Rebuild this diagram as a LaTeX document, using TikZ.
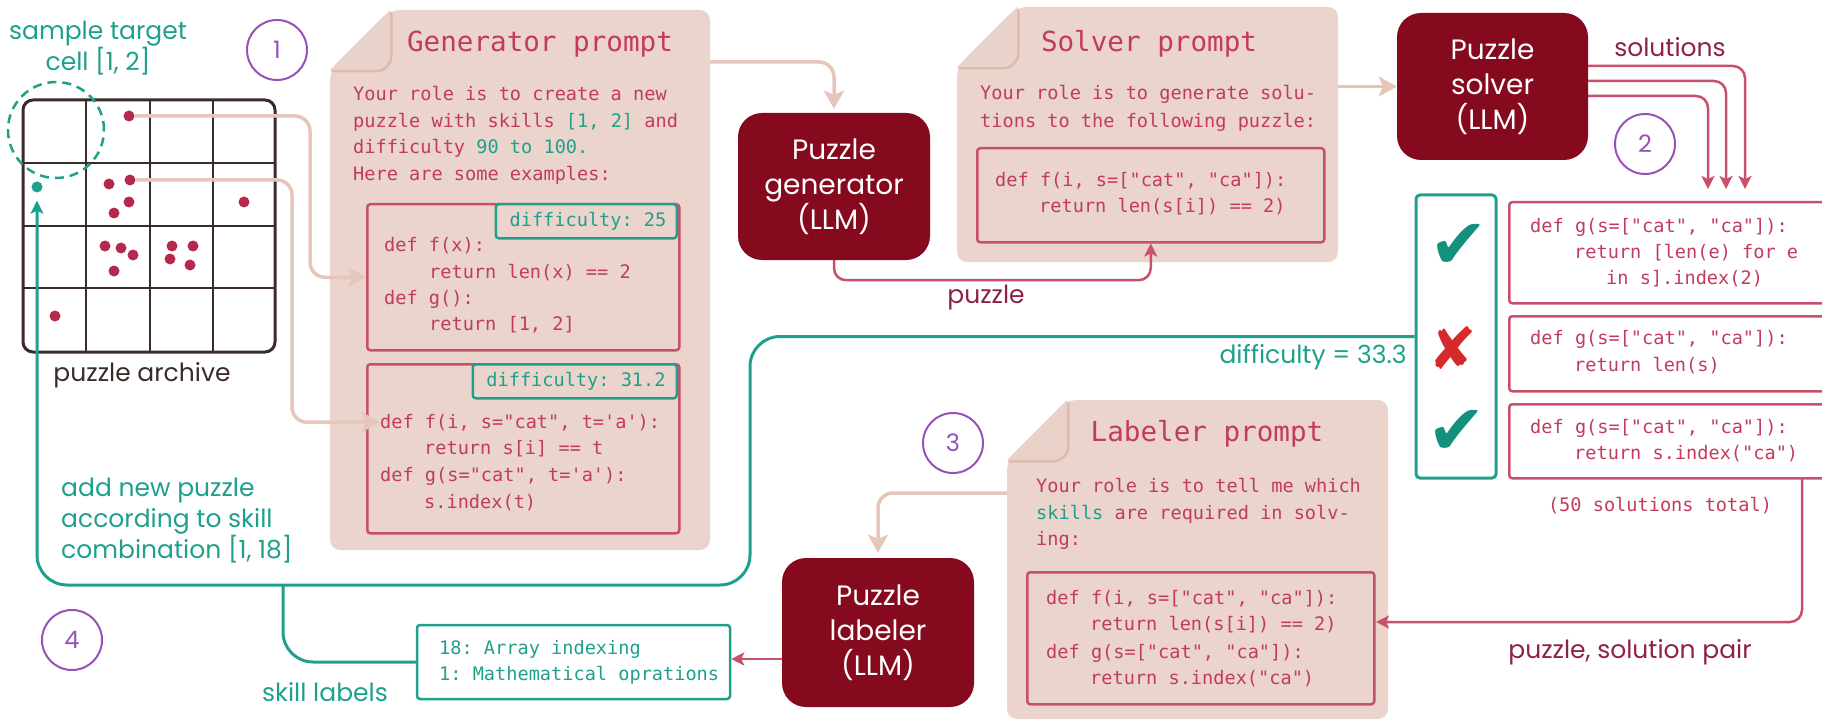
\documentclass[tikz,border=0pt]{standalone}
\usepackage{fontspec}
\setmainfont{Poppins}
\setmonofont{DejaVu Sans Mono}
\newfontfamily\symfont{DejaVu Sans}
\usetikzlibrary{arrows.meta}
\definecolor{llmred}{HTML}{850A1E}
\definecolor{promptfill}{HTML}{EBD4CC}
\definecolor{foldlight}{HTML}{EAD2CA}
\definecolor{foldshadow}{HTML}{D6B0A3}
\definecolor{prompttext}{HTML}{C23B5C}
\definecolor{codeborder}{HTML}{C9506B}
\definecolor{tealc}{HTML}{1FA08D}
\definecolor{checkteal}{HTML}{14907E}
\definecolor{purplec}{HTML}{9652B6}
\definecolor{labelred}{HTML}{8E2245}
\definecolor{peach}{HTML}{E6C6BA}
\definecolor{gridc}{HTML}{3B2B2B}
\definecolor{dotred}{HTML}{B5294E}
\definecolor{xred}{HTML}{D42A2A}
\newcommand\promptpaper[5]{%
  \fill[promptfill, rounded corners=10pt] (#2,#3+60) -- (#2+60,#3) -- (#4,#3) -- (#4,#5) -- (#2,#5) -- cycle;
  \draw[foldshadow, line width=3pt, opacity=0.7, line cap=round] (#2+2,#3+61) -- (#2+46,#3+61) to[out=0,in=-90] (#2+61,#3+46) -- (#2+61,#3+3);
  \fill[foldlight] (#2,#3+60) -- (#2+60,#3) -- (#2+60,#3+46) to[out=-90,in=0] (#2+46,#3+60) -- cycle;
  \node[inner sep=0pt, minimum width=#4-#2, minimum height=#5-#3, anchor=north west] (#1) at (#2,#3) {};}
\begin{document}
\begin{tikzpicture}[x=1pt,y=-1pt,
  code/.style={font=\fontsize{18.6}{26}\selectfont\ttfamily, text=prompttext, anchor=base west, inner sep=0pt},
  ptitle/.style={font=\fontsize{27.6}{30}\selectfont\ttfamily, text=prompttext, anchor=base, inner sep=0pt},
  llm/.style={fill=llmred, rounded corners=24pt, text=white, align=center, font=\fontsize{28}{35}\selectfont, inner sep=0pt},
  codebox/.style={draw=codeborder, line width=2.5pt, rounded corners=3pt, inner sep=0pt},
  tagbox/.style={draw=tealc, line width=2.5pt, rounded corners=3pt, inner sep=0pt},
  numcircle/.style={circle, draw=purplec, line width=2pt, minimum size=60pt, inner sep=0pt, text=purplec, font=\fontsize{24}{24}\selectfont},
  lab/.style={font=\fontsize{25}{31}\selectfont, inner sep=0pt},
  peacharrow/.style={draw=peach, line width=3.5pt, rounded corners=15pt, -{Stealth[length=18pt,width=20pt,inset=4pt]}},
  redarrow/.style={draw=codeborder, line width=2.5pt, rounded corners=12pt, -{Stealth[length=13pt,width=13pt,inset=3pt]}},
  tealline/.style={draw=tealc, line width=3pt, rounded corners=30pt},
  dot/.style={circle, fill=dotred, minimum size=11pt, inner sep=0pt},
]
\useasboundingbox (0,0) rectangle (1822,722);
\clip (0,0) rectangle (1822,722);

% ---------- puzzle archive ----------
\node[lab, text=tealc, align=center] (sample) at (98,48) {sample target\\cell [1, 2]};
\node[numcircle] (n1) at (277,50) {1};
\node[draw=gridc, line width=3pt, rounded corners=10pt, minimum width=252pt, minimum height=252pt, inner sep=0pt] (archive) at (149,226) {};
\foreach \xx in {86,150,213} \draw[gridc, line width=2.5pt] (\xx,100) -- (\xx,352);
\foreach \yy in {163,226,288} \draw[gridc, line width=2.5pt] (23,\yy) -- (275,\yy);
\draw[tealc, line width=2.5pt, dash pattern=on 9pt off 6pt] (56,130) circle (48pt);
\node[circle, fill=tealc, minimum size=11pt, inner sep=0pt] (tealdot) at (37,187) {};
\node[dot] (d1) at (129,116) {};
\node[dot] (d2) at (130,180) {};
\foreach \px/\py [count=\i] in {109/184,129/202,114/213,244/202,105/246,121/248,133/255,114/271,172/246,193/246,170/259,190/265,55/316}
  \node[dot] (dd\i) at (\px,\py) {};
\node[lab, text=gridc] (archlabel) at (142,375) {puzzle archive};

% ---------- generator prompt ----------
\promptpaper{genprompt}{330}{10}{710}{550}
\node[ptitle] (gtitle) at (540,52) {Generator prompt};
\node[code] (gb1) at (353,101) {Your role is to create a new};
\node[code] (gb2) at (353,128) {puzzle with skills \textcolor{tealc}{[1, 2]} and};
\node[code] (gb3) at (353,154) {difficulty \textcolor{tealc}{90 to 100.}};
\node[code] (gb4) at (353,181) {Here are some examples:};
\node[codebox, minimum width=312pt, minimum height=146pt, anchor=north west] (gcode1) at (366,203) {};
\node[tagbox, fill=promptfill, minimum width=181pt, minimum height=34pt, anchor=north east] (tag1) at (678,203) {};
\node[code, anchor=base, text=tealc] (tag1t) at (588,226) {difficulty: 25};
\node[code] (c11) at (384,251) {def f(x):};
\node[code] (c12) at (429,278) {return len(x) == 2};
\node[code] (c13) at (384,304) {def g():};
\node[code] (c14) at (429,330) {return [1, 2]};
\node[codebox, minimum width=312pt, minimum height=169pt, anchor=north west] (gcode2) at (366,363) {};
\node[tagbox, fill=promptfill, minimum width=204pt, minimum height=34pt, anchor=north east] (tag2) at (678,363) {};
\node[code, anchor=base, text=tealc] (tag2t) at (576,386) {difficulty: 31.2};
\node[code] (c21) at (380,428) {def f(i, s="cat", t='a'):};
\node[code] (c22) at (424,454) {return s[i] == t};
\node[code] (c23) at (380,481) {def g(s="cat", t='a'):};
\node[code] (c24) at (424,508) {s.index(t)};

\draw[peacharrow] (d1.east) -- (310,116) |- (gcode1.west);
\draw[peacharrow] (d2.east) -- (292,180) |- (c21.west);

% ---------- generator LLM ----------
\node[llm, minimum width=192pt, minimum height=147pt] (genllm) at (834,186.5) {Puzzle\\generator\\(LLM)};
\coordinate (gout) at (710,62);
\draw[peacharrow, shorten >=4pt] (gout) -| (genllm.north);

% ---------- solver prompt ----------
\promptpaper{solverprompt}{957}{7}{1338}{262}
\node[ptitle] (stitle) at (1149,52) {Solver prompt};
\node[code] (sb1) at (980,100) {Your role is to generate solu-};
\node[code] (sb2) at (980,128) {tions to the following puzzle:};
\node[codebox, minimum width=347pt, minimum height=94pt, anchor=north west] (scode) at (976,147) {};
\node[code] (s11) at (995,186) {def f(i, s=["cat", "ca"]):};
\node[code] (s12) at (1039,212) {return len(s[i]) == 2)};
\draw[redarrow] (genllm.south) -- ++(0,20) -| (scode.south);
\node[lab, text=labelred] (puzzlelab) at (986,297) {puzzle};

% ---------- solver LLM ----------
\node[llm, minimum width=191pt, minimum height=147pt] (solverllm) at (1492.5,86.5) {Puzzle\\solver\\(LLM)};
\draw[peacharrow] (solverprompt.east |- solverllm.west) -- (solverllm.west);
\node[lab, text=labelred] (sollab) at (1670,47) {solutions};
\node[numcircle] (n2) at (1645,144) {2};

% ---------- solutions ----------
\node[codebox, minimum width=330pt, minimum height=101pt, anchor=north west] (sol1) at (1508,201) {};
\node[codebox, minimum width=330pt, minimum height=75pt, anchor=north west] (sol2) at (1508,315) {};
\node[codebox, minimum width=330pt, minimum height=74pt, anchor=north west] (sol3) at (1508,403) {};
\foreach \yy/\xx in {66/1745,81/1726,96/1708}
  \draw[redarrow] (solverllm.east |- 0,\yy) -| (\xx,189);
\node[code] (o11) at (1530,232) {def g(s=["cat", "ca"]):};
\node[code] (o12) at (1574,258) {return [len(e) for e};
\node[code] (o13) at (1606,284) {in s].index(2)};
\node[code] (o21) at (1530,344) {def g(s=["cat", "ca"]):};
\node[code] (o22) at (1574,371) {return len(s)};
\node[code] (o31) at (1530,433) {def g(s=["cat", "ca"]):};
\node[code] (o32) at (1574,459) {return s.index("ca")};
\node[code, anchor=base] (total) at (1660,511) {(50 solutions total)};

% ---------- check box ----------
\node[draw=tealc, line width=3pt, rounded corners=4pt, minimum width=80pt, minimum height=283pt, inner sep=0pt] (checkbox) at (1456,336.5) {};
\node[text=checkteal, font=\fontsize{70}{70}\selectfont\symfont, inner sep=0pt] (chk1) at (1459,246) {✔};
\node[text=xred, font=\fontsize{58}{58}\selectfont\symfont, inner sep=0pt] (xx1) at (1453,348) {✘};
\node[text=checkteal, font=\fontsize{70}{70}\selectfont\symfont, inner sep=0pt] (chk2) at (1457,432) {✔};
\node[lab, text=tealc] (difflab) at (1313,357) {difficulty = 33.3};

% ---------- labeler prompt ----------
\node[numcircle] (n3) at (953,443) {3};
\promptpaper{labprompt}{1007}{400}{1388}{719}
\node[ptitle] (ltitle) at (1207,441) {Labeler prompt};
\node[code] (lb1) at (1036,492) {Your role is to tell me which};
\node[code] (lb2) at (1036,519) {\textcolor{tealc}{skills} are required in solv-};
\node[code] (lb3) at (1036,545) {ing:};
\node[codebox, minimum width=347pt, minimum height=132pt, anchor=north west] (lcode) at (1026,571) {};
\node[code] (l11) at (1046,604) {def f(i, s=["cat", "ca"]):};
\node[code] (l12) at (1090,630) {return len(s[i]) == 2)};
\node[code] (l13) at (1046,658) {def g(s=["cat", "ca"]):};
\node[code] (l14) at (1090,684) {return s.index("ca")};
\coordinate (s3out) at (1802,477);
\coordinate (lin) at (1376,622);
\draw[redarrow] (s3out) |- (lin);
\node[lab, text=labelred] (pairlab) at (1630,652) {puzzle, solution pair};

% ---------- labeler LLM ----------
\node[llm, minimum width=192pt, minimum height=149pt] (labllm) at (878,632.5) {Puzzle\\labeler\\(LLM)};
\coordinate (lout) at (1007,493);
\draw[peacharrow, shorten >=5pt] (lout) -| (labllm.north);

% ---------- skill labels ----------
\node[tagbox, minimum width=313pt, minimum height=74pt] (skillbox) at (573.5,662) {};
\node[code, text=tealc] (sk1) at (439,654) {18: Array indexing};
\node[code, text=tealc] (sk2) at (439,680) {1: Mathematical oprations};
\draw[redarrow] (labllm.west |- 0,659) -- (skillbox.east |- 0,659);
\node[lab, text=tealc] (skilllab) at (325,692) {skill labels};
\node[numcircle] (n4) at (72,640) {4};

% ---------- teal loop ----------
\coordinate (tc1) at (750,585);
\coordinate (tc2) at (283,585);
\draw[tealline, -{Stealth[length=13pt,width=13pt,inset=3pt]}, shorten >=8pt] (checkbox.west) -| (tc1) -| (tealdot.south);
\draw[tealline] (tc2) |- (skillbox.west);
\node[lab, text=tealc, align=left, anchor=west] (addlab) at (61,521) {add new puzzle\\according to skill\\combination [1, 18]};
\end{tikzpicture}
\end{document}
